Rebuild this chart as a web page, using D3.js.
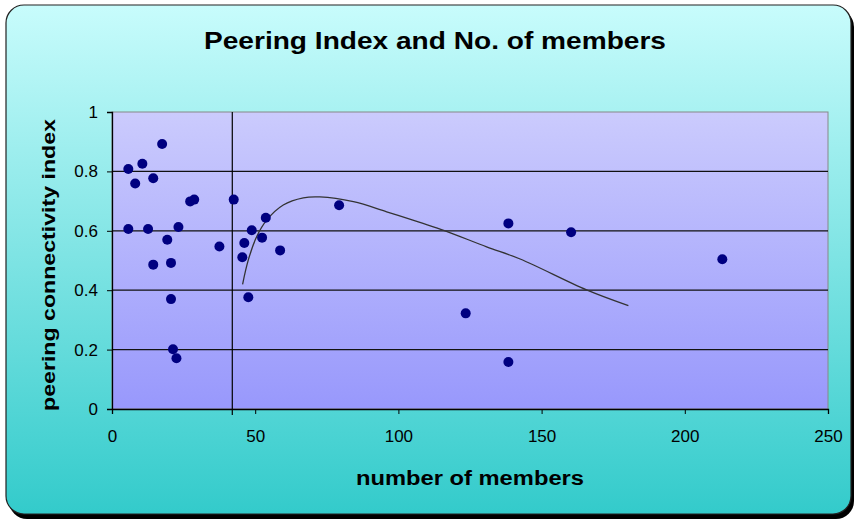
<!DOCTYPE html>
<html>
<head>
<meta charset="utf-8">
<script src="https://cdnjs.cloudflare.com/ajax/libs/d3/7.8.5/d3.min.js"></script>
<style>
  body { margin: 0; background: #fff; }
  text { font-family: "Liberation Sans", Arial, sans-serif; }
</style>
</head>
<body>
<div id="chart"></div>
<script>
const W = 857, H = 523;

// number of members / peering connectivity index
const members = [5.7, 8.1, 10.6, 17.5, 14.4, 5.7, 12.6, 23.2, 19.3, 14.4, 20.6, 20.6, 21.3, 22.5,
  27.3, 28.7, 37.5, 42.5, 46.2, 45.5, 47.6, 48.8, 52.4, 53.7, 58.7, 79.3,
  123.5, 138.4, 138.4, 160.3, 213.1];
const peering = [0.808, 0.759, 0.826, 0.892, 0.777, 0.606, 0.606, 0.613, 0.570, 0.486, 0.492, 0.370, 0.201, 0.171,
  0.699, 0.705, 0.547, 0.705, 0.559, 0.511, 0.376, 0.602, 0.577, 0.644, 0.534, 0.686,
  0.322, 0.625, 0.158, 0.595, 0.504];

// trend curve, points
const trendX = [45.6, 47.6, 50.5, 54.0, 59.8, 66.8, 72.6, 84.3, 95.9, 107.5, 116.3, 130.8, 142.5, 165.7, 180.3];
const trendY = [0.420, 0.502, 0.580, 0.636, 0.687, 0.711, 0.714, 0.698, 0.664, 0.628, 0.600, 0.546, 0.505, 0.401, 0.348];

const xTicks = [0, 50, 100, 150, 200, 250];
const yTicks = [0, 0.2, 0.4, 0.6, 0.8, 1];
const crossAt = 42; // where the value axis crosses the category axis

const plot = { left: 112, right: 828, top: 112, bottom: 409 };

const svg = d3.select("#chart").append("svg")
  .attr("width", W).attr("height", H);

const defs = svg.append("defs");
const bg = defs.append("linearGradient").attr("id", "bg").attr("x1", 0).attr("y1", 0).attr("x2", 0).attr("y2", 1);
bg.append("stop").attr("offset", "0%").attr("stop-color", "#c8fcfc");
bg.append("stop").attr("offset", "100%").attr("stop-color", "#33cbcb");
const pg = defs.append("linearGradient").attr("id", "pg").attr("x1", 0).attr("y1", 0).attr("x2", 0).attr("y2", 1);
pg.append("stop").attr("offset", "0%").attr("stop-color", "#cbcbfd");
pg.append("stop").attr("offset", "100%").attr("stop-color", "#9898fc");

// chart box with shadow
svg.append("rect").attr("x", 9).attr("y", 9).attr("width", 845).attr("height", 510)
  .attr("rx", 18).attr("fill", "#000");
svg.append("rect").attr("x", 6).attr("y", 5).attr("width", 845).attr("height", 509)
  .attr("rx", 18).attr("fill", "url(#bg)").attr("stroke", "#222").attr("stroke-width", 1.2);

const x = d3.scaleLinear().domain([0, 250]).range([plot.left, plot.right]);
const y = d3.scaleLinear().domain([0, 1]).range([plot.bottom, plot.top]);

svg.append("rect")
  .attr("x", plot.left).attr("y", plot.top)
  .attr("width", plot.right - plot.left).attr("height", plot.bottom - plot.top)
  .attr("fill", "url(#pg)").attr("stroke", "#888").attr("stroke-width", 1);

// gridlines
svg.append("g").selectAll("line").data(yTicks.filter(d => d > 0 && d < 1)).join("line")
  .attr("x1", plot.left).attr("x2", plot.right)
  .attr("y1", d => y(d)).attr("y2", d => y(d))
  .attr("stroke", "#111").attr("stroke-width", 1.2);

// x axis
const xAxis = svg.append("g").attr("transform", `translate(0,${plot.bottom})`)
  .call(d3.axisBottom(x).tickValues(xTicks).tickSize(5).tickPadding(16).tickFormat(d3.format("d")));
xAxis.select(".domain").attr("stroke", "#000").attr("stroke-width", 1.3);
xAxis.selectAll("text").attr("font-size", 17).attr("fill", "#000");

// y axis
const yAxis = svg.append("g").attr("transform", `translate(${plot.left},0)`)
  .call(d3.axisLeft(y).tickValues(yTicks).tickSize(5).tickPadding(9).tickFormat(d => d === 0 || d === 1 ? d : d.toFixed(1)));
yAxis.select(".domain").attr("stroke", "#000").attr("stroke-width", 1.3);
yAxis.selectAll("text").attr("font-size", 17).attr("fill", "#000");

// crossing vertical axis line
svg.append("line")
  .attr("x1", x(crossAt)).attr("x2", x(crossAt))
  .attr("y1", plot.top).attr("y2", plot.bottom + 6)
  .attr("stroke", "#000").attr("stroke-width", 1.2);

// trend line
const line = d3.line().x(d => x(d[0])).y(d => y(d[1])).curve(d3.curveCatmullRom);
svg.append("path")
  .datum(d3.zip(trendX, trendY))
  .attr("d", line)
  .attr("fill", "none").attr("stroke", "#333").attr("stroke-width", 1.3);

// points
svg.append("g").selectAll("circle").data(d3.zip(members, peering)).join("circle")
  .attr("cx", d => x(d[0])).attr("cy", d => y(d[1])).attr("r", 5)
  .attr("fill", "#000080");

// titles
svg.append("text").attr("x", 435).attr("y", 49).attr("text-anchor", "middle")
  .attr("font-size", 24).attr("font-weight", "bold")
  .attr("textLength", 462).attr("lengthAdjust", "spacingAndGlyphs")
  .text("Peering Index and No. of members");
svg.append("text").attr("x", 470).attr("y", 485).attr("text-anchor", "middle")
  .attr("font-size", 20).attr("font-weight", "bold")
  .attr("textLength", 228).attr("lengthAdjust", "spacingAndGlyphs")
  .text("number of members");
svg.append("text").attr("transform", `translate(55,265) rotate(-90)`)
  .attr("text-anchor", "middle")
  .attr("font-size", 19).attr("font-weight", "bold")
  .attr("textLength", 292).attr("lengthAdjust", "spacingAndGlyphs")
  .text("peering connectivity index");
</script>
</body>
</html>
